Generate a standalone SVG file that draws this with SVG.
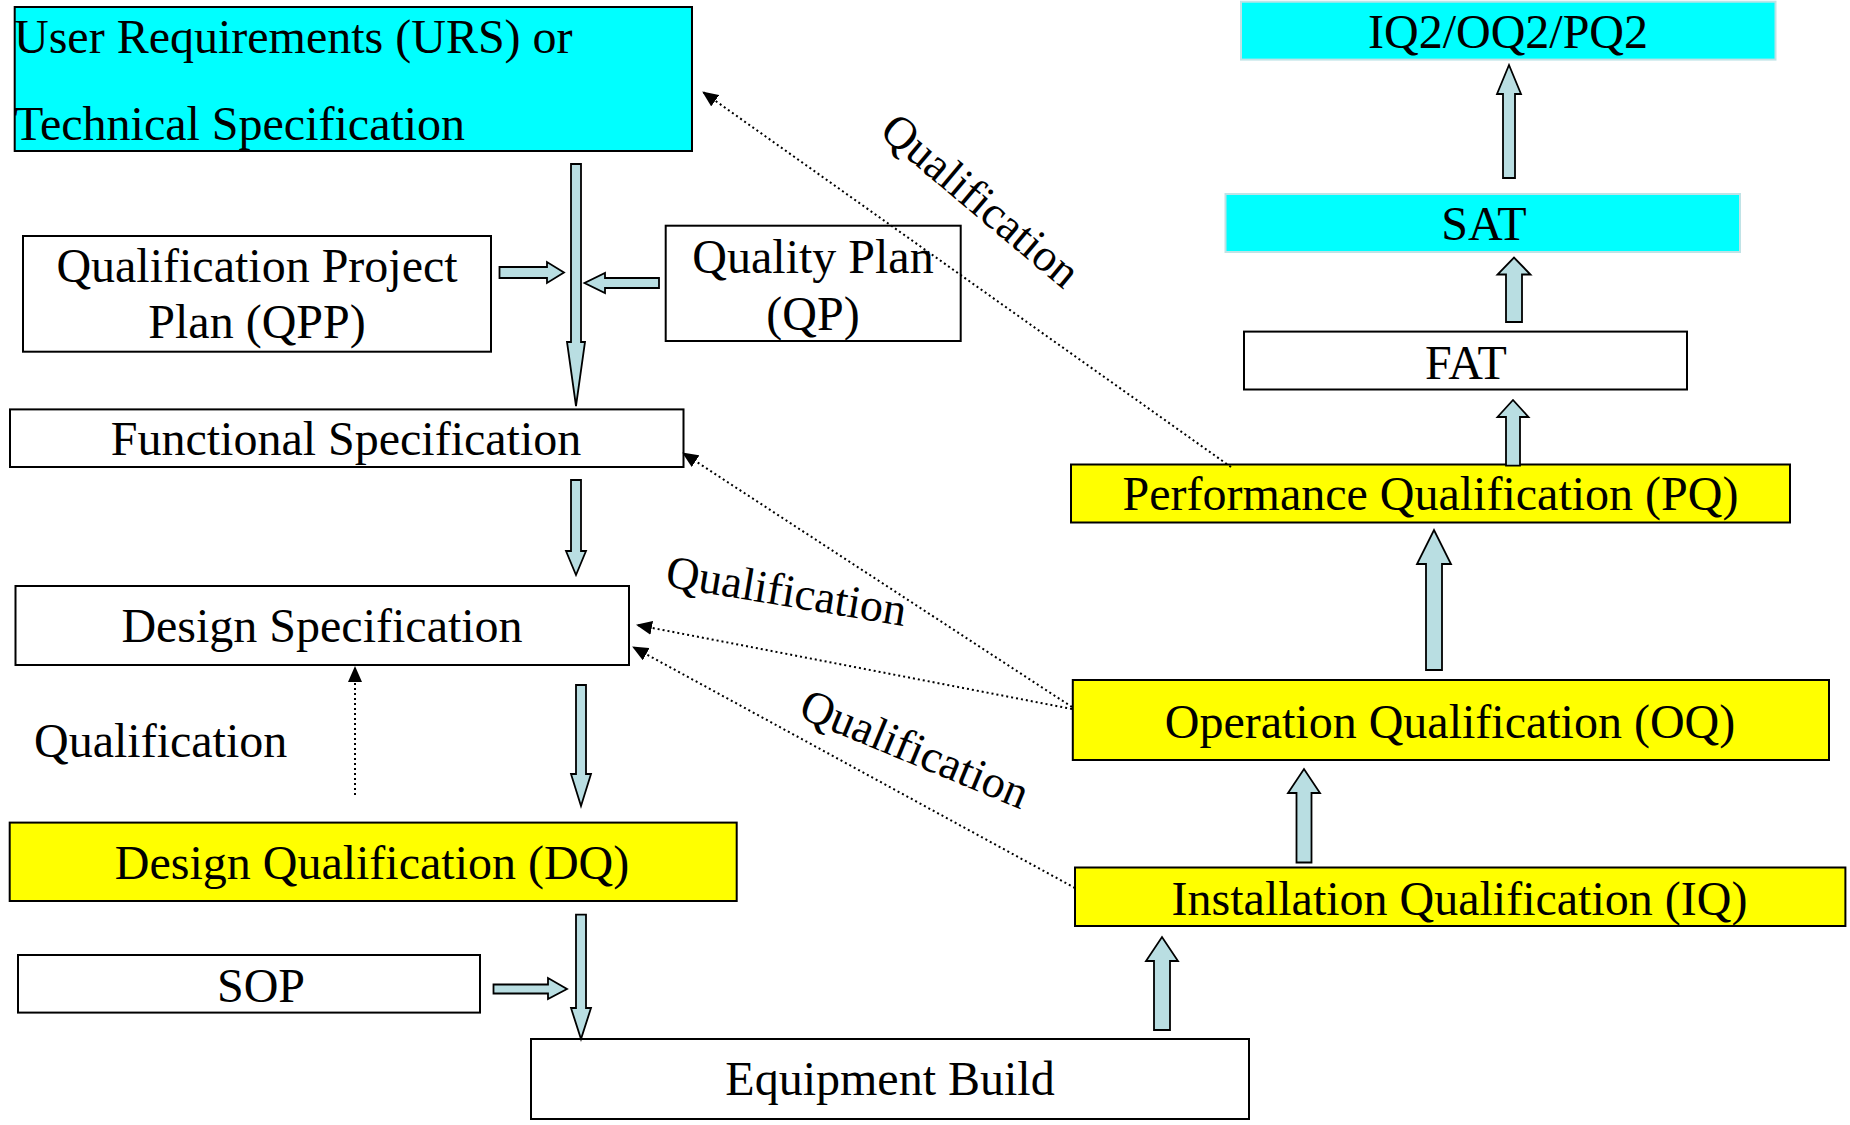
<svg xmlns="http://www.w3.org/2000/svg" width="1850" height="1125" viewBox="0 0 1850 1125">
<style>
  .box { stroke: #000; stroke-width: 2; fill: #fff; }
  .cyan { fill: #00FFFF; }
  .cyan2 { fill: #00FFFF; stroke: #BFE3E6; }
  .yellow { fill: #FFFF00; }
  .t { font-family: "Liberation Serif", "Times New Roman", serif; font-size: 48px; fill: #000; }
  .mid { text-anchor: middle; }
  .rot { font-size: 46px; }
  .blk { fill: #B9DEE2; stroke: #000; stroke-width: 1.8; stroke-linejoin: miter; }
  .dot { fill: none; stroke: #000; stroke-width: 2; stroke-dasharray: 2 3; }
</style>
<defs>
  <marker id="ah" markerUnits="userSpaceOnUse" markerWidth="16" markerHeight="14" refX="15" refY="7" orient="auto">
    <path d="M0,0 L16,7 L0,14 Z" fill="#000"/>
  </marker>
</defs>
<rect width="1850" height="1125" fill="#fff"/>

<g id="urs">
  <rect class="box cyan" x="14.7" y="7" width="677.3" height="144"/>
  <text class="t" x="14" y="53">User Requirements (URS) or</text>
  <text class="t" x="14" y="140">Technical Specification</text>
</g>
<g id="qpp">
  <rect class="box" x="23" y="236" width="468" height="115.7"/>
  <text class="t mid" x="257" y="282">Qualification Project</text>
  <text class="t mid" x="257" y="338">Plan (QPP)</text>
</g>
<g id="qp">
  <rect class="box" x="665.7" y="225.7" width="295" height="115.3"/>
  <text class="t mid" x="813" y="273">Quality Plan</text>
  <text class="t mid" x="813" y="330">(QP)</text>
</g>
<g id="fs">
  <rect class="box" x="10" y="409.4" width="673.5" height="57.6"/>
  <text class="t mid" x="346" y="455">Functional Specification</text>
</g>
<g id="ds">
  <rect class="box" x="15.5" y="586" width="613.5" height="79"/>
  <text class="t mid" x="322" y="642">Design Specification</text>
</g>
<g id="dq">
  <rect class="box yellow" x="9.7" y="822.6" width="727" height="78.4"/>
  <text class="t mid" x="372" y="879">Design Qualification (DQ)</text>
</g>
<g id="sop">
  <rect class="box" x="18" y="955" width="462" height="57.6"/>
  <text class="t mid" x="261" y="1002">SOP</text>
</g>
<g id="eb">
  <rect class="box" x="531" y="1039" width="718" height="80"/>
  <text class="t mid" x="890" y="1095">Equipment Build</text>
</g>
<g id="iq">
  <rect class="box yellow" x="1075" y="867.5" width="770.4" height="58.5"/>
  <text class="t mid" x="1459.5" y="914.6">Installation Qualification (IQ)</text>
</g>
<g id="oq">
  <rect class="box yellow" x="1072.8" y="680" width="756.2" height="80"/>
  <text class="t mid" x="1450" y="738">Operation Qualification (OQ)</text>
</g>
<g id="pq">
  <rect class="box yellow" x="1071" y="464.5" width="719" height="58"/>
  <text class="t mid" x="1430.5" y="509.6">Performance Qualification (PQ)</text>
</g>
<g id="fat">
  <rect class="box" x="1244" y="331.6" width="443" height="57.9"/>
  <text class="t mid" x="1466" y="378.8">FAT</text>
</g>
<g id="sat">
  <rect class="box cyan2" x="1225.5" y="194" width="514.5" height="58"/>
  <text class="t mid" x="1484" y="240">SAT</text>
</g>
<g id="iq2">
  <rect class="box cyan2" x="1241" y="1.7" width="534.5" height="57.9"/>
  <text class="t mid" x="1508" y="47.5">IQ2/OQ2/PQ2</text>
</g>

<g id="connectors">
  <!-- block arrows -->
  <polygon class="blk" points="571,164 581,164 581,342 585,342 576,406 567,342 571,342"/>
  <polygon class="blk" points="499.5,267 547,267 547,262 564,272.5 547,283 547,278 499.5,278"/>
  <polygon class="blk" points="659,278 605,278 605,273 584.5,283 605,293 605,288 659,288"/>
  <polygon class="blk" points="571,480 581,480 581,551 586,551 576,575 566,551 571,551"/>
  <polygon class="blk" points="576,685 586,685 586,774 591,774 581,806 571,774 576,774"/>
  <polygon class="blk" points="493.5,984.5 548,984.5 548,978 567,989 548,999 548,993.5 493.5,993.5"/>
  <polygon class="blk" points="576,914.6 586,914.6 586,1008 591,1008 581,1039 571,1008 576,1008"/>
  <polygon class="blk" points="1154,1030 1170,1030 1170,961 1178,961 1162,937 1146,961 1154,961"/>
  <polygon class="blk" points="1296.5,862.5 1311.5,862.5 1311.5,793 1320,793 1304,769 1288,793 1296.5,793"/>
  <polygon class="blk" points="1426,670 1442,670 1442,564 1451,564 1434,530 1417,564 1426,564"/>
  <polygon class="blk" points="1506,465.6 1520,465.6 1520,417 1528.5,417 1513,400 1497.5,417 1506,417"/>
  <polygon class="blk" points="1506,322 1522,322 1522,274.5 1530.5,274.5 1514,257.6 1497.5,274.5 1506,274.5"/>
  <polygon class="blk" points="1503,178 1515,178 1515,94 1521,94 1509,65 1497,94 1503,94"/>
  <!-- dotted qualification links -->
  <line class="dot" x1="1231" y1="467" x2="703" y2="92" marker-end="url(#ah)"/>
  <line class="dot" x1="1072" y1="707" x2="683" y2="453" marker-end="url(#ah)"/>
  <line class="dot" x1="1072" y1="709" x2="637" y2="625" marker-end="url(#ah)"/>
  <line class="dot" x1="1075" y1="888" x2="633" y2="647" marker-end="url(#ah)"/>
  <line class="dot" x1="355" y1="795" x2="355" y2="667" marker-end="url(#ah)"/>
  <!-- labels -->
  <text class="t rot mid" transform="translate(971,212) rotate(40)">Qualification</text>
  <text class="t rot mid" transform="translate(784,606) rotate(9.5)">Qualification</text>
  <text class="t rot mid" transform="translate(909,763) rotate(22.5)">Qualification</text>
  <text class="t" x="34" y="757">Qualification</text>
</g>
</svg>
